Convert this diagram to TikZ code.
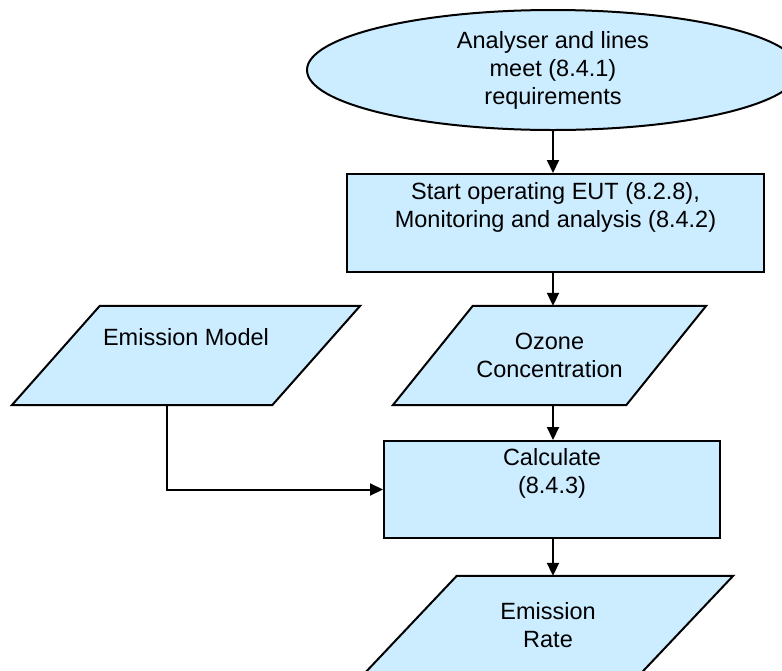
\documentclass[tikz,border=0pt]{standalone}
\usepackage{fontspec}
\setmainfont{Liberation Sans}
\usetikzlibrary{shapes.geometric,arrows.meta}
\definecolor{boxfill}{RGB}{204,236,255}
\begin{document}
\begin{tikzpicture}[x=1pt,y=-1pt,
  every node/.style={font=\fontsize{23.5}{28}\selectfont, align=center, inner sep=0pt},
  shapebox/.style={draw=black, line width=2pt, fill=boxfill},
  frame/.style={rectangle, draw=none},
  arr/.style={line width=2pt, -{Triangle[length=13pt,width=12pt]}},
  ]
\useasboundingbox (0,0) rectangle (782,670);
\clip (0,0) rectangle (782,670);
\fill[white] (0,0) rectangle (782,670);

% parallelogram frames, then their outlines
\node[frame, minimum width=313pt, minimum height=99pt] (oz) at (549.5,355.5) {};
\node[frame, minimum width=348pt, minimum height=99pt] (em) at (186,355.5) {};
\node[frame, minimum width=370pt, minimum height=99pt] (er) at (548,625.5) {};

\filldraw[shapebox] ([xshift=80pt]oz.north west) -- (oz.north east) -- ([xshift=-80pt]oz.south east) -- (oz.south west) -- cycle;
\filldraw[shapebox] ([xshift=88pt]em.north west) -- (em.north east) -- ([xshift=-88pt]em.south east) -- (em.south west) -- cycle;
\filldraw[shapebox] ([xshift=94pt]er.north west) -- (er.north east) -- ([xshift=-94pt]er.south east) -- (er.south west) -- cycle;

\node at (oz.center) {Ozone\\Concentration};
\node at (em.center) {Emission Model\\\strut};
\node at (er.center) {Emission\\Rate};

\node[ellipse, shapebox, minimum width=492pt, minimum height=120pt] (ell) at (553,70)
  {Analyser and lines\\meet (8.4.1)\\requirements};
\node[rectangle, shapebox, minimum width=417pt, minimum height=98pt] (r1) at (555.5,223)
  {Start operating EUT (8.2.8),\\Monitoring and analysis (8.4.2)\\\strut};
\node[rectangle, shapebox, minimum width=336pt, minimum height=97pt] (calc) at (552,489.5)
  {Calculate\\(8.4.3)\\\strut};

\draw[arr] (ell.south) -- (ell.south |- r1.north);
\draw[arr] (ell.south |- r1.south) -- (ell.south |- oz.north);
\draw[arr] (ell.south |- oz.south) -- (ell.south |- calc.north);
\draw[arr] (ell.south |- calc.south) -- (ell.south |- er.north);
\draw[arr] ([xshift=-19pt]em.south) |- (calc.west);
\end{tikzpicture}
\end{document}
